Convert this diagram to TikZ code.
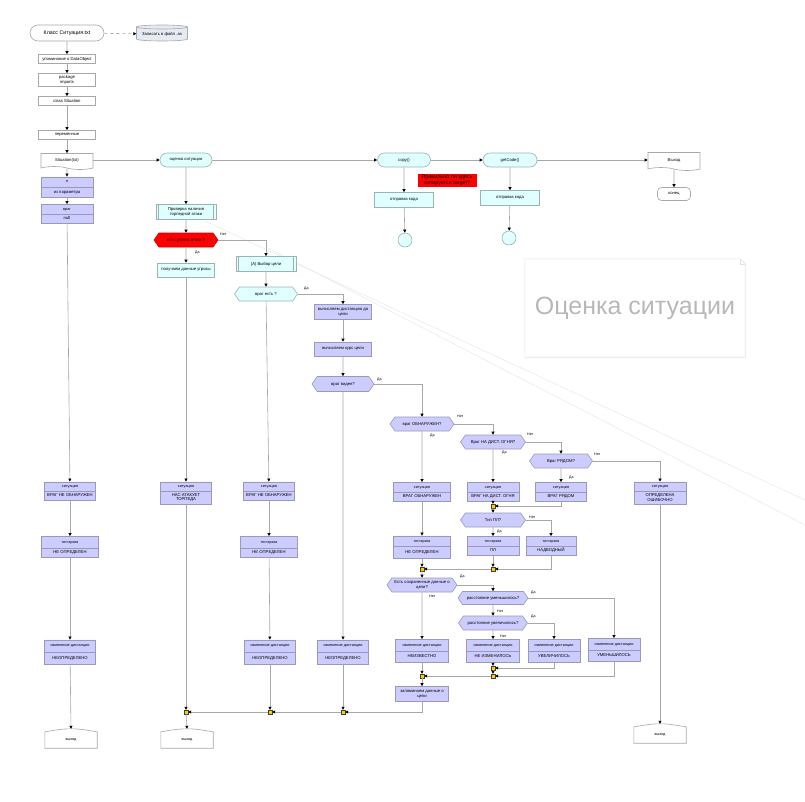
\documentclass[tikz,border=0pt]{standalone}
\usepackage{fontspec}
\setmainfont{Liberation Sans}
\usetikzlibrary{arrows.meta,shapes.geometric,shapes.misc,shapes.symbols,shapes.multipart}
\definecolor{ln}{HTML}{A8A8A8}
\definecolor{bfill}{HTML}{CCCCFF}
\definecolor{bdraw}{HTML}{9999BB}
\definecolor{cfill}{HTML}{E0FFFF}
\definecolor{cdraw}{HTML}{9DB3B3}
\definecolor{jfill}{HTML}{FFCC00}
\definecolor{dbfill}{HTML}{E6EAF2}
\definecolor{ttl}{HTML}{B8B8B8}
\newcommand\fsz{\fontsize{4.2}{4.8}\selectfont}
\newcommand\fsa{\fontsize{3.8}{4.4}\selectfont}
\newcommand\hpa[2]{\vbox to #1pt{\vss\hbox to 0pt{\hss\fsa\begin{tabular}{@{}c@{}}#2\end{tabular}\hss}\vss}}
\newcommand\hpb[2]{\vbox to #1pt{\vss\hbox to 0pt{\hss\fsz\begin{tabular}{@{}c@{}}#2\end{tabular}\hss}\vss}}
\newcommand\exitdraw[1]{%
 \draw[draw=ln, line width=0.6pt] (#1.south west) -- (#1.north west)
   .. controls ([xshift=10pt,yshift=1.5pt]#1.north west) and ([xshift=-10pt,yshift=3pt]#1.north) .. ([yshift=3pt]#1.north)
   .. controls ([xshift=10pt,yshift=3pt]#1.north) and ([xshift=-10pt,yshift=1.5pt]#1.north east) .. (#1.north east)
   -- (#1.south east) -- cycle;
 \coordinate (#1-top) at ([yshift=3pt]#1.north);}
\begin{document}
\begin{tikzpicture}[x=1pt,y=-1pt,
 base/.style={inner sep=0pt, font=\fsz, align=center},
 wbox/.style={base, draw=ln, fill=white, line width=0.6pt},
 bbox/.style={base, draw=bdraw, fill=bfill, line width=0.6pt},
 cbox/.style={base, draw=cdraw, fill=cfill, line width=0.6pt},
 split/.style={rectangle split, rectangle split parts=2, draw=bdraw, fill=bfill, line width=0.6pt, inner sep=0pt, minimum width=#1},
 hexa/.style={signal, signal to=east and west, signal pointer angle=110},
 pred/.style={cbox, path picture={\draw[draw=cdraw, line width=0.6pt] ([xshift=2.5pt]path picture bounding box.north west) -- ([xshift=2.5pt]path picture bounding box.south west) ([xshift=-2.5pt]path picture bounding box.north east) -- ([xshift=-2.5pt]path picture bounding box.south east);}},
 junc/.style={rectangle, draw=black!75, fill=jfill, minimum size=4pt, inner sep=0pt, line width=0.4pt},
 lnk/.style={draw=ln, line width=0.6pt, -{Triangle[length=3pt,width=3pt,color=black]}},
 lab/.style={font=\fontsize{3.6}{4}\selectfont, inner sep=0pt, anchor=west},
 exitn/.style={base, font=\fsa, minimum width=52pt, minimum height=16pt},
]
\useasboundingbox (0,0) rectangle (805,801);
% faint guide lines
\draw[gray!22, line width=0.4pt] (205,221) -- (805,500);
\draw[gray!22, line width=0.4pt] (268,248) -- (805,525);
% title note
\node[minimum width=220pt, minimum height=98pt, font=\fontsize{25}{30}\selectfont, text=ttl, inner sep=0pt] (title) at (635,308) {Оценка ситуации};
\draw[gray!22, line width=0.6pt] (title.south west) -- (title.north west) -- ([xshift=-5pt]title.north east) -- ([yshift=-5pt]title.north east) -- (title.south east) -- cycle;
\draw[gray!22, line width=0.5pt] ([xshift=-5pt]title.north east) -- ([xshift=-5pt,yshift=-5pt]title.north east) -- ([yshift=-5pt]title.north east);

% ---------- column 1
\node[wbox, rounded rectangle, minimum width=74pt, minimum height=16pt, font=\fontsize{5.3}{6}\selectfont] (klass) at (67,33) {Класс Ситуация.txt};
\draw[draw=ln, line width=0.6pt, fill=dbfill] (136.5,27) -- (136.5,39) arc[start angle=180, end angle=360, x radius=25.5pt, y radius=2pt] -- (187.5,27) arc[start angle=0, end angle=180, x radius=25.5pt, y radius=2pt] -- cycle;
\draw[draw=ln, line width=0.6pt] (136.5,27) arc[start angle=180, end angle=360, x radius=25.5pt, y radius=2pt];
\node[base, minimum width=51pt, minimum height=14pt] (db) at (162,34) {Записать в файл .as};
\node[wbox, minimum width=57pt, minimum height=9pt] (upom) at (67,59) {упоминание о DataObject};
\node[wbox, minimum width=57pt, minimum height=13pt] (pkg) at (67,80) {package\\imports};
\node[wbox, minimum width=57pt, minimum height=9pt] (cls) at (67,101) {class Situation};
\node[wbox, minimum width=57pt, minimum height=9pt] (vars) at (67,135) {переменные};
\node[wbox, tape, tape bend top=none, tape bend bottom=out and in, tape bend height=3pt, minimum width=52pt, minimum height=16pt] (sit) at (67,160) {Situation(txt)};
\node[split=52pt] (ya) at (67,187) {\hpa{9.5}{я}\nodepart{two}\hpb{9.5}{из параметра}};
\node[split=52pt] (vrag) at (67,214) {\hpa{9}{враг}\nodepart{two}\hpb{9}{null}};
\node[split=51pt] (sitL) at (70,491) {\hpa{8.5}{ситуация}\nodepart{two}\hpb{8.5}{ВРАГ НЕ ОБНАРУЖЕН}};
\node[split=57pt] (tipL) at (70,547) {\hpa{11}{тип врага}\nodepart{two}\hpb{9}{НЕ ОПРЕДЕЛЕН}};
\node[split=51pt] (izmL) at (70,652) {\hpa{11.5}{изменение дистанции}\nodepart{two}\hpb{11.5}{НЕОПРЕДЕЛЕНО}};
\node[exitn] (vyhL) at (71,740) {выход}; \exitdraw{vyhL}

% ---------- column 2
\node[cbox, rounded rectangle, minimum width=52pt, minimum height=14pt] (ocenka) at (186,160) {оценка ситуации};
\node[pred, minimum width=60pt, minimum height=15pt] (prov) at (186,212) {Проверка наличия\\торпедной атаки};
\node[base, hexa, draw=red!85!black, fill=red, line width=0.6pt, minimum width=64pt, minimum height=14pt] (threat) at (186,240) {есть угроза атаки ?};
\node[cbox, minimum width=57pt, minimum height=14pt] (poluch) at (186,270) {получаем данные угрозы};
\node[split=51pt] (sitT) at (186,493) {\hpa{8.5}{ситуация}\nodepart{two}\hpb{12.5}{НАС АТАКУЕТ\\ТОРПЕДА}};
\node[junc] (j1) at (186,712) {};
\node[exitn] (vyhT) at (187,740) {выход}; \exitdraw{vyhT}

% ---------- column 3
\node[pred, minimum width=60pt, minimum height=15pt] (vybor) at (266,264) {(А) Выбор цели};
\node[base, hexa, draw=cdraw, fill=cfill, line width=0.6pt, minimum width=63pt, minimum height=14pt] (vragest) at (266,294) {враг есть ?};
\node[split=51pt] (sit3) at (269,491) {\hpa{8.5}{ситуация}\nodepart{two}\hpb{8.5}{ВРАГ НЕ ОБНАРУЖЕН}};
\node[split=57pt] (tip3) at (269,547) {\hpa{11}{тип врага}\nodepart{two}\hpb{9}{НЕ ОПРЕДЕЛЕН}};
\node[split=51pt] (izm3) at (270,652) {\hpa{11.5}{изменение дистанции}\nodepart{two}\hpb{11.5}{НЕОПРЕДЕЛЕНО}};
\node[junc] (j2) at (270,712) {};

% ---------- column 4
\node[bbox, minimum width=57pt, minimum height=15pt] (vych) at (343,312) {вычисляем дистанцию до\\цели};
\node[bbox, minimum width=57pt, minimum height=14pt] (kurs) at (343,349) {вычисляем курс цели};
\node[bbox, hexa, minimum width=62pt, minimum height=15pt] (viden) at (343,384) {враг виден?};
\node[split=51pt] (izm4) at (343,652) {\hpa{11.5}{изменение дистанции}\nodepart{two}\hpb{11.5}{НЕОПРЕДЕЛЕНО}};
\node[junc] (j3) at (343,712) {};

% ---------- right part
\node[bbox, hexa, minimum width=64pt, minimum height=14pt] (obn) at (422,424) {враг ОБНАРУЖЕН?};
\node[bbox, hexa, minimum width=65pt, minimum height=14pt] (dist) at (493,442) {Враг НА ДИСТ. ОГНЯ?};
\node[bbox, hexa, minimum width=63pt, minimum height=14pt] (ryad) at (561,461) {Враг РЯДОМ?};
\node[split=57pt] (sitA) at (422,492) {\hpa{9}{ситуация}\nodepart{two}\hpb{9}{ВРАГ ОБНАРУЖЕН}};
\node[split=52pt] (sitB) at (493,492) {\hpa{9}{ситуация}\nodepart{two}\hpb{9}{ВРАГ НА ДИСТ. ОГНЯ}};
\node[split=51pt] (sitC) at (561,492) {\hpa{9}{ситуация}\nodepart{two}\hpb{9}{ВРАГ РЯДОМ}};
\node[split=52pt] (sitD) at (660,493) {\hpa{9}{ситуация}\nodepart{two}\hpb{12}{ОПРЕДЕЛЕНА\\ОШИБОЧНО}};
\node[exitn] (vyhR) at (660,735) {выход}; \exitdraw{vyhR}
\node[junc] (jB) at (493,506) {};
\node[bbox, hexa, minimum width=65pt, minimum height=14pt] (tipPL) at (493,520) {Тип ПЛ?};
\node[split=52pt] (tPL) at (493,546) {\hpa{9}{тип врага}\nodepart{two}\hpb{9}{ПЛ}};
\node[split=50pt] (tNad) at (551,546) {\hpa{9}{тип врага}\nodepart{two}\hpb{9}{НАДВОДНЫЙ}};
\node[split=57pt] (tipA) at (422,547) {\hpa{10}{тип врага}\nodepart{two}\hpb{11}{НЕ ОПРЕДЕЛЕН}};
\node[junc] (jC) at (493,569) {};
\node[junc] (jA) at (422,569) {};
\node[bbox, hexa, minimum width=70pt, minimum height=14pt] (est) at (422,585) {Есть сохраненные данные о\\цели?};
\node[bbox, hexa, minimum width=70pt, minimum height=13pt] (umen) at (493,598) {расстояние уменьшилось?};
\node[bbox, hexa, minimum width=69pt, minimum height=14pt] (uvel) at (493,623) {расстояние увеличилось?};
\node[split=53pt] (izmN) at (422,651) {\hpa{11}{изменение дистанции}\nodepart{two}\hpb{11}{НЕИЗВЕСТНО}};
\node[split=53pt] (izmNI) at (493,651) {\hpa{11}{изменение дистанции}\nodepart{two}\hpb{11}{НЕ ИЗМЕНИЛОСЬ}};
\node[split=52pt] (izmV) at (554,651) {\hpa{11}{изменение дистанции}\nodepart{two}\hpb{11}{УВЕЛИЧИЛОСЬ}};
\node[split=52pt] (izmU) at (614,650) {\hpa{11}{изменение дистанции}\nodepart{two}\hpb{11}{УМЕНЬШИЛОСЬ}};
\node[junc] (jD) at (493,668) {};
\node[junc] (jE) at (493,676) {};
\node[junc] (jF) at (422,676) {};
\node[bbox, minimum width=53pt, minimum height=15pt] (zap) at (422,694) {запоминаем данные о\\цели};

% ---------- top right
\node[cbox, rounded rectangle, minimum width=53pt, minimum height=14pt] (copy) at (404,160) {copy()};
\node[cbox, minimum width=59pt, minimum height=15pt] (otr1) at (404,200) {отправка кода};
\node[cbox, circle, minimum size=14pt] (c1) at (405,240) {};
\node[base, fill=red, minimum width=59pt, minimum height=13pt, font=\fontsize{5.4}{6}\selectfont] (note) at (447,180) {Правильно ли здесь\\копируется target?};
\node[cbox, rounded rectangle, minimum width=54pt, minimum height=14pt] (getc) at (510,160) {getCode()};
\node[cbox, minimum width=59pt, minimum height=15pt] (otr2) at (510,198) {отправка кода};
\node[cbox, circle, minimum size=14pt] (c2) at (509,238) {};
\node[wbox, tape, tape bend top=none, tape bend bottom=out and in, tape bend height=3pt, minimum width=52pt, minimum height=18pt] (vyhod) at (674,160) {Выход};
\node[wbox, rounded corners=4pt, minimum width=33pt, minimum height=13pt] (konec) at (674,194) {конец};

% ---------- connectors
\draw[lnk, dashed] (klass) -- (db);
\draw[lnk] (klass) -- (upom);
\draw[lnk] (upom) -- (pkg);
\draw[lnk] (pkg) -- (cls);
\draw[lnk] (cls) -- (vars);
\draw[lnk] (vars) -- (sit);
\draw[lnk] (sit) -- (ya);
\draw[lnk] (ya) -- (vrag);
\draw[lnk] (vrag) -- (sitL);
\draw[lnk] (sitL) -- (tipL);
\draw[lnk] (tipL) -- (izmL);
\draw[lnk] (izmL) -- (vyhL-top);

\draw[lnk] (sit.east) -- (ocenka.west);
\draw[lnk] (ocenka.east) -- (copy.west);
\draw[lnk] (copy.east) -- (getc.west);
\draw[lnk] (getc.east) -- (vyhod.west);
\draw[lnk] (vyhod) -- (konec);
\draw[lnk] (copy) -- (otr1);
\draw[lnk] (otr1) -- (c1);
\draw[lnk] (getc) -- (otr2);
\draw[lnk] (otr2) -- (c2);

\draw[lnk] (ocenka) -- (prov);
\draw[lnk] (prov) -- (threat);
\draw[lnk] (threat) -- (poluch);
\draw[lnk] (threat.east) -| (vybor.north);
\draw[lnk] (poluch) -- (sitT);
\draw[lnk] (sitT) -- (j1);
\draw[lnk] (j1) -- (vyhT-top);

\draw[lnk] (vybor) -- (vragest);
\draw[lnk] (vragest) -- (sit3);
\draw[lnk] (sit3) -- (tip3);
\draw[lnk] (tip3) -- (izm3);
\draw[lnk] (izm3) -- (j2);
\draw[lnk] (vragest.east) -| (vych.north);
\draw[lnk] (vych) -- (kurs);
\draw[lnk] (kurs) -- (viden);
\draw[lnk] (viden) -- (izm4);
\draw[lnk] (izm4) -- (j3);
\draw[lnk] (viden.east) -| (obn.north);

\draw[lnk] (obn) -- (sitA);
\draw[lnk] (obn.east) -| (dist.north);
\draw[lnk] (dist) -- (sitB);
\draw[lnk] (dist.east) -| (ryad.north);
\draw[lnk] (ryad) -- (sitC);
\draw[lnk] (ryad.east) -| (sitD.north);
\draw[lnk] (sitD) -- (vyhR-top);
\draw[lnk] (sitB) -- (jB);
\draw[lnk] (sitC.south) |- (jB);
\draw[lnk] (jB) -- (tipPL);
\draw[lnk] (tipPL) -- (tPL);
\draw[lnk] (tipPL.east) -| (tNad.north);
\draw[lnk] (tPL) -- (jC);
\draw[lnk] (tNad.south) |- (jC);
\draw[lnk] (sitA) -- (tipA);
\draw[lnk] (tipA) -- (jA);
\draw[lnk] (jC) -- (jA);
\draw[lnk] (jA) -- (est);
\draw[lnk] (est.east) -| (umen.north);
\draw[lnk] (est) -- (izmN);
\draw[lnk] (umen.east) -| (izmU.north);
\draw[lnk] (umen) -- (uvel);
\draw[lnk] (uvel.east) -| (izmV.north);
\draw[lnk] (uvel) -- (izmNI);
\draw[lnk] (izmNI) -- (jD);
\draw[lnk] (izmV.south) |- (jD);
\draw[lnk] (jD) -- (jE);
\draw[lnk] (izmU.south) |- (jE);
\draw[lnk] (jE) -- (jF);
\draw[lnk] (izmN) -- (jF);
\draw[lnk] (jF) -- (zap);
\draw[lnk] (zap.south) |- (j3);
\draw[lnk] (j3) -- (j2);
\draw[lnk] (j2) -- (j1);

% ---------- labels
\node[lab] (l1) at (220,234) {Нет};
\node[lab] (l2) at (195,253) {Да};
\node[lab] (l3) at (304,289) {Да};
\node[lab] (l4) at (377,380) {Да};
\node[lab] (l5) at (457,416) {Нет};
\node[lab] (l6) at (430,436) {Да};
\node[lab] (l7) at (527,434) {Нет};
\node[lab] (l8) at (502,453) {Да};
\node[lab] (l9) at (594,454) {Нет};
\node[lab] (l10) at (569,478) {Да};
\node[lab] (l11) at (529,517) {Нет};
\node[lab] (l12) at (497,532) {Да};
\node[lab] (l13) at (460,577) {Да};
\node[lab] (l14) at (429,596) {Нет};
\node[lab] (l15) at (531,593) {Да};
\node[lab] (l16) at (497,611) {Нет};
\node[lab] (l17) at (531,617) {Да};
\node[lab] (l18) at (500,636) {Нет};
\end{tikzpicture}
\end{document}
